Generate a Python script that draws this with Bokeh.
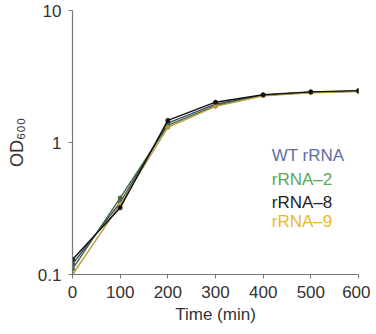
from bokeh.plotting import figure
from bokeh.models import Range1d, FixedTicker, Label
from bokeh.embed import file_html
from bokeh.resources import INLINE

time_min = [0, 100, 200, 300, 400, 500, 600]
wt_rrna = [0.12, 0.35, 1.40, 1.95, 2.28, 2.40, 2.45]
rrna_2 = [0.11, 0.38, 1.35, 1.90, 2.28, 2.40, 2.45]
rrna_8 = [0.13, 0.32, 1.47, 2.02, 2.30, 2.42, 2.47]
rrna_9 = [0.10, 0.34, 1.30, 1.88, 2.26, 2.38, 2.43]
series_names = ["WT rRNA", "rRNA\u20132", "rRNA\u20138", "rRNA\u20139"]
y_ticks = [0.1, 1, 10]
x_ticks = [0, 100, 200, 300, 400, 500, 600]

FONT = "Liberation Sans"

p = figure(width=370, height=327, y_axis_type="log",
           x_range=Range1d(0, 600), y_range=Range1d(0.1, 10),
           output_backend="svg", toolbar_location=None,
           min_border_left=72, min_border_right=12, min_border_top=10, min_border_bottom=53)
p.outline_line_color = None
p.grid.grid_line_color = None
p.background_fill_color = "white"

line_colors = ["#3b4766", "#3d6b3d", "#111111", "#b89a40"]
legend_colors = ["#5b6ea6", "#5aa85a", "#222222", "#e8b830"]
series = [wt_rrna, rrna_2, rrna_9, rrna_8]
order_colors = [line_colors[0], line_colors[1], line_colors[3], line_colors[2]]
for ys, c in zip(series, order_colors):
    p.line(time_min, ys, line_color=c, line_width=1.4)
    p.scatter(time_min, ys, size=4, color=c)

p.xaxis.ticker = FixedTicker(ticks=x_ticks)
p.yaxis.ticker = FixedTicker(ticks=y_ticks, minor_ticks=[])
p.yaxis.major_label_overrides = {0.1: "0.1", 1: "1", 10: "10"}

for ax in (p.xaxis[0], p.yaxis[0]):
    ax.axis_line_color = "#777777"
    ax.axis_line_width = 1.2
    ax.major_tick_line_color = "#777777"
    ax.minor_tick_line_color = None
    ax.major_tick_out = 4
    ax.major_tick_in = 0
    ax.major_label_text_font = FONT
    ax.major_label_text_font_size = "17px"
    ax.major_label_text_color = "#333333"
    ax.axis_label_text_font = FONT
    ax.axis_label_text_font_size = "17px"
    ax.axis_label_text_font_style = "normal"
    ax.axis_label_text_color = "#333333"
    ax.major_label_standoff = 7

p.xaxis.axis_label = "Time (min)"
p.yaxis.axis_label = "OD\u2086\u2080\u2080"
p.yaxis.axis_label_text_font_size = "18px"
p.xaxis.axis_label_standoff = 4
p.yaxis.axis_label_standoff = 8

label_y = [0.8, 0.52, 0.35, 0.25]
for name, c, yy in zip(series_names, legend_colors, label_y):
    p.add_layout(Label(x=418, y=yy, text=name, text_color=c,
                       text_font=FONT, text_font_size="17px",
                       text_baseline="middle", text_align="left"))

open("out.html", "w").write(file_html(p, INLINE))
